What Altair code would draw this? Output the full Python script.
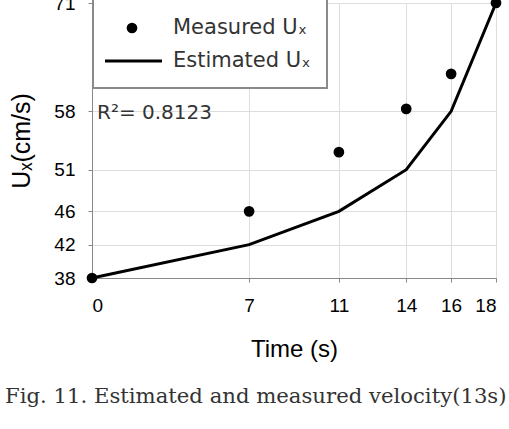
import altair as alt
import pandas as pd

time_s = [0, 7, 11, 14, 16, 18]
measured = [38, 46, 53.1, 58.3, 62.5, 71]
estimated = [38, 42, 46, 51, 58, 71]
x_ticks = [0, 7, 11, 14, 16, 18]
y_ticks = [38, 42, 46, 51, 58, 71]
series_names = ["Measured Uₓ", "Estimated Uₓ"]
r2_text = ["R²= 0.8123"]
caption_text = ["Fig. 11. Estimated and measured velocity(13s)"]

df_m = pd.DataFrame({"t": time_s, "u": measured, "series": series_names[0]})
df_e = pd.DataFrame({"t": time_s, "u": estimated, "series": series_names[1]})

FONT = "DejaVu Sans"

x_enc = alt.X(
    "t:Q",
    scale=alt.Scale(domain=[0, 18], nice=False, zero=False),
    axis=alt.Axis(values=x_ticks, title="Time (s)", grid=True, format="d",
                  labelFontSize=19, titleFontSize=24, titlePadding=22,
                  titleFontWeight="normal", labelPadding=14, tickSize=4),
)
y_enc = alt.Y(
    "u:Q",
    scale=alt.Scale(domain=[38, 71], nice=False, zero=False),
    axis=alt.Axis(values=y_ticks, title="Uₓ(cm/s)", grid=True, format="d",
                  labelFontSize=19, titleFontSize=25, titlePadding=19,
                  titleFontWeight="normal", labelPadding=13, tickSize=4),
)

line = alt.Chart(df_e).mark_line(color="black", strokeWidth=3).encode(x=x_enc, y=y_enc)

points = alt.Chart(df_m).mark_point(
    filled=True, color="black", size=115, opacity=1
).encode(x=x_enc, y=y_enc)

# legend box (drawn in plot-relative pixels)
legend_box = alt.Chart(pd.DataFrame({"k": [0]})).mark_rect(
    fill="white", stroke="#8a8a8a", strokeWidth=2, opacity=1
).encode(x=alt.value(1), x2=alt.value(235), y=alt.value(-4), y2=alt.value(85))

legend_dot = alt.Chart(pd.DataFrame({"series": [series_names[0]]})).mark_point(
    filled=True, color="black", size=115, opacity=1
).encode(x=alt.value(40), y=alt.value(25))

legend_line = alt.Chart(pd.DataFrame({"series": [series_names[1]]})).mark_rule(
    color="black", strokeWidth=3
).encode(x=alt.value(13), x2=alt.value(70), y=alt.value(58))

legend_lbl_m = alt.Chart(pd.DataFrame({"series": [series_names[0]]})).mark_text(
    align="left", baseline="middle", fontSize=21, font=FONT, color="#333"
).encode(text="series:N", x=alt.value(81), y=alt.value(25))

legend_lbl_e = alt.Chart(pd.DataFrame({"series": [series_names[1]]})).mark_text(
    align="left", baseline="middle", fontSize=21, font=FONT, color="#333"
).encode(text="series:N", x=alt.value(81), y=alt.value(58))

r2 = alt.Chart(pd.DataFrame({"txt": r2_text})).mark_text(
    align="left", baseline="alphabetic", fontSize=20, font=FONT, color="#333"
).encode(text="txt:N", x=alt.value(5), y=alt.value(116))

caption = alt.Chart(pd.DataFrame({"txt": caption_text})).mark_text(
    align="left", baseline="middle", fontSize=21.2, font="DejaVu Serif", color="#333"
).encode(text="txt:N", x=alt.value(-87), y=alt.value(394))

chart = alt.layer(
    line, points, legend_box, legend_dot, legend_line, legend_lbl_m, legend_lbl_e, r2, caption
).properties(
    width=404, height=275,
    autosize=alt.AutoSizeParams(type="none"),
    padding={"left": 92, "top": 3, "right": 13, "bottom": 151},
).configure_view(stroke=None).configure_axis(
    labelFont=FONT, titleFont=FONT, labelColor="#333", titleColor="#333",
    domainColor="#8c8c8c", tickColor="#8c8c8c",
    gridColor="#dcdcdc", domainWidth=1.5,
).configure(background="white")

chart.save("out.html", embed_options={"renderer": "svg", "actions": False})
